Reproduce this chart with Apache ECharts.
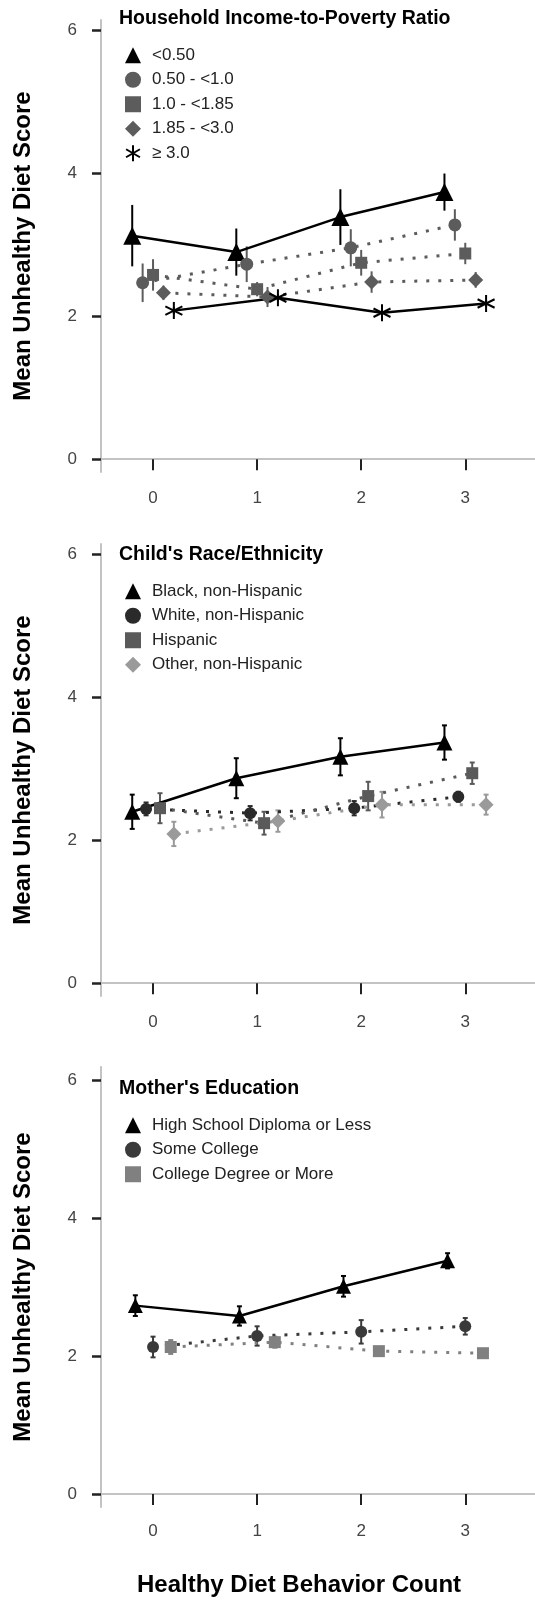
<!DOCTYPE html>
<html>
<head>
<meta charset="utf-8">
<script src="https://cdn.jsdelivr.net/npm/echarts@6/dist/echarts.min.js"></script>
<style>
html,body{margin:0;padding:0;background:#fff;}
#chart{width:535px;height:1603px;}
</style>
</head>
<body>
<div id="chart"></div>
<script>
// ---- data ----
const behaviorCounts = [0, 1, 2, 3];
const xTicks = [0, 1, 2, 3];
const yTicks = [0, 2, 4, 6];

// Panel 1: Household Income-to-Poverty Ratio
const incomeTitle = 'Household Income-to-Poverty Ratio';
const incomeNames = ['<0.50', '0.50 - <1.0', '1.0 - <1.85', '1.85 - <3.0', '\u2265 3.0'];
const incLt050 = [3.13, 2.90, 3.39, 3.74];
const incLt050Err = [0.43, 0.33, 0.39, 0.26];
const inc050to100 = [2.47, 2.73, 2.96, 3.28];
const inc050to100Err = [0.27, 0.25, 0.26, 0.22];
const inc100to185 = [2.58, 2.38, 2.75, 2.88];
const inc100to185Err = [0.22, 0.10, 0.18, 0.15];
const inc185to300 = [2.33, 2.27, 2.48, 2.51];
const inc185to300Err = [0.10, 0.14, 0.15, 0.11];
const incGe300 = [2.08, 2.26, 2.05, 2.18];
const incGe300Err = [0.05, 0.05, 0.05, 0.05];

// Panel 2: Child's Race/Ethnicity
const raceTitle = "Child's Race/Ethnicity";
const raceNames = ['Black, non-Hispanic', 'White, non-Hispanic', 'Hispanic', 'Other, non-Hispanic'];
const raceBlack = [2.40, 2.87, 3.17, 3.37];
const raceBlackErr = [0.24, 0.28, 0.26, 0.24];
const raceWhite = [2.44, 2.38, 2.45, 2.61];
const raceWhiteErr = [0.09, 0.10, 0.10, 0.07];
const raceHispanic = [2.45, 2.24, 2.62, 2.94];
const raceHispanicErr = [0.21, 0.16, 0.20, 0.15];
const raceOther = [2.09, 2.27, 2.50, 2.50];
const raceOtherErr = [0.17, 0.15, 0.18, 0.14];

// Panel 3: Mother's Education
const eduTitle = "Mother's Education";
const eduNames = ['High School Diploma or Less', 'Some College', 'College Degree or More'];
const eduHS = [2.73, 2.58, 3.01, 3.38];
const eduHSErr = [0.15, 0.14, 0.15, 0.11];
const eduSome = [2.13, 2.29, 2.35, 2.43];
const eduSomeErr = [0.15, 0.14, 0.17, 0.12];
const eduDegree = [2.13, 2.20, 2.07, 2.04];
const eduDegreeErr = [0.10, 0.08, 0.04, 0.04];

const yAxisTitle = 'Mean Unhealthy Diet Score';
const xAxisTitle = 'Healthy Diet Behavior Count';

// ---- styling / layout ----
const FONT = 'Liberation Sans, Arial, sans-serif';
const STAR = 'path://M0,-10L0,10M-8.66,-5L8.66,5M-8.66,5L8.66,-5';

const panels = [
  { title: incomeTitle, top: 20, height: 452, ymin: -0.18, ymax: 6.15, titleY: 20, legTop: 43, labelMargin: 18, cap: 0,
    series: [
      { name: incomeNames[0], vals: incLt050, err: incLt050Err, off: -0.2, symbol: 'triangle', size: 18, color: '#000', line: 'solid' },
      { name: incomeNames[1], vals: inc050to100, err: inc050to100Err, off: -0.1, symbol: 'circle', size: 13, color: '#5c5c5c', line: 'dot' },
      { name: incomeNames[2], vals: inc100to185, err: inc100to185Err, off: 0, symbol: 'rect', size: 12, color: '#5c5c5c', line: 'dot' },
      { name: incomeNames[3], vals: inc185to300, err: inc185to300Err, off: 0.1, symbol: 'diamond', size: 15, color: '#5c5c5c', line: 'dot' },
      { name: incomeNames[4], vals: incGe300, err: incGe300Err, off: 0.2, symbol: STAR, size: 17, color: '#000', line: 'solid', star: true }
    ] },
  { title: raceTitle, top: 544, height: 452, ymin: -0.18, ymax: 6.15, titleY: 556, legTop: 579, labelMargin: 18, cap: 5,
    series: [
      { name: raceNames[0], vals: raceBlack, err: raceBlackErr, off: -0.2, symbol: 'triangle', size: 16, color: '#000', line: 'solid' },
      { name: raceNames[1], vals: raceWhite, err: raceWhiteErr, off: -0.067, symbol: 'circle', size: 12, color: '#2a2a2a', line: 'dot' },
      { name: raceNames[2], vals: raceHispanic, err: raceHispanicErr, off: 0.067, symbol: 'rect', size: 12, color: '#5a5a5a', line: 'dot' },
      { name: raceNames[3], vals: raceOther, err: raceOtherErr, off: 0.2, symbol: 'diamond', size: 15, color: '#9a9a9a', line: 'dot' }
    ] },
  { title: eduTitle, top: 1067, height: 440, ymin: -0.19, ymax: 6.19, titleY: 1090, legTop: 1113, labelMargin: 16, cap: 5,
    series: [
      { name: eduNames[0], vals: eduHS, err: eduHSErr, off: -0.17, symbol: 'triangle', size: 15, color: '#000', line: 'solid' },
      { name: eduNames[1], vals: eduSome, err: eduSomeErr, off: 0, symbol: 'circle', size: 12, color: '#3a3a3a', line: 'dot' },
      { name: eduNames[2], vals: eduDegree, err: eduDegreeErr, off: 0.17, symbol: 'rect', size: 12, color: '#808080', line: 'dot' }
    ] }
];

function errRender(color, cap) {
  return function (params, api) {
    const x = api.value(0), lo = api.value(1), hi = api.value(2);
    const p1 = api.coord([x, hi]), p2 = api.coord([x, lo]);
    const st = { stroke: color, lineWidth: 2 };
    const children = [{ type: 'line', shape: { x1: p1[0], y1: p1[1], x2: p2[0], y2: p2[1] }, style: st }];
    if (cap > 0) {
      children.push({ type: 'line', shape: { x1: p1[0] - cap / 2, y1: p1[1], x2: p1[0] + cap / 2, y2: p1[1] }, style: st });
      children.push({ type: 'line', shape: { x1: p2[0] - cap / 2, y1: p2[1], x2: p2[0] + cap / 2, y2: p2[1] }, style: st });
    }
    return { type: 'group', children: children };
  };
}

const grid = [], xAxis = [], yAxis = [], series = [], legend = [], title = [];
panels.forEach(function (p, i) {
  grid.push({ left: 101, right: 0, top: p.top, height: p.height });
  xAxis.push({
    type: 'value', gridIndex: i, min: -0.5, max: 3.67,
    axisLine: { onZero: true, lineStyle: { color: '#c3c3c3', width: 2 } },
    axisTick: { customValues: xTicks, length: 11, lineStyle: { color: '#222', width: 2 } },
    axisLabel: { customValues: xTicks, margin: p.labelMargin, fontSize: 17, color: '#444', fontFamily: FONT },
    splitLine: { show: false }
  });
  yAxis.push({
    type: 'value', gridIndex: i, min: p.ymin, max: p.ymax,
    name: yAxisTitle, nameLocation: 'middle', nameGap: 66,
    nameTextStyle: { fontSize: 24, fontWeight: 'bold', color: '#000', fontFamily: FONT },
    axisLine: { onZero: false, lineStyle: { color: '#c3c3c3', width: 2 } },
    axisTick: { customValues: yTicks, length: 9, lineStyle: { color: '#222', width: 2.5 } },
    axisLabel: { customValues: yTicks, margin: 24, fontSize: 17, color: '#444', fontFamily: FONT },
    splitLine: { show: false }
  });
  title.push({
    text: p.title, left: 119, top: p.titleY - 11,
    textStyle: { fontSize: 19.5, fontWeight: 'bold', color: '#000', fontFamily: FONT }, padding: 0
  });
  const legData = [];
  p.series.forEach(function (s) {
    series.push({
      type: 'custom', name: s.name + ' (CI)', xAxisIndex: i, yAxisIndex: i, z: 1,
      renderItem: errRender(s.color, p.cap),
      encode: { x: 0, y: [1, 2] },
      data: behaviorCounts.map(function (c, k) { return [c + s.off, s.vals[k] - s.err[k], s.vals[k] + s.err[k]]; }),
      silent: true
    });
    series.push({
      type: 'line', name: s.name, xAxisIndex: i, yAxisIndex: i, z: 3,
      data: behaviorCounts.map(function (c, k) { return [c + s.off, s.vals[k]]; }),
      symbol: s.symbol, symbolSize: s.size, showAllSymbol: true,
      itemStyle: s.star ? { color: '#fff', opacity: 1, borderColor: '#000', borderWidth: 2 } : { color: s.color },
      lineStyle: s.line === 'solid' ? { color: s.color, width: 2.5, type: 'solid' }
                                    : { color: s.color, width: 3, type: [3, 9] },
      animation: false, silent: true
    });
    legData.push({
      name: s.name,
      icon: s.symbol,
      itemStyle: s.star ? { color: 'rgba(0,0,0,0)', borderColor: '#000', borderWidth: 2 } : { color: s.color, borderWidth: 0 }
    });
  });
  legend.push({
    data: legData, orient: 'vertical', left: 125, top: p.legTop, padding: 0,
    itemWidth: 16, itemHeight: 16, itemGap: 0, selectedMode: false,
    textStyle: { fontSize: 17, color: '#222', fontFamily: FONT, lineHeight: 24.5, padding: [0, 0, 0, 6] }
  });
});

const chart = echarts.init(document.getElementById('chart'), null, { renderer: 'canvas' });
chart.setOption({
  animation: false,
  backgroundColor: '#fff',
  title: title,
  legend: legend,
  grid: grid,
  xAxis: xAxis,
  yAxis: yAxis,
  series: series,
  graphic: [{
    type: 'text', left: 304 - 167, top: 1573,
    style: { text: xAxisTitle, font: 'bold 24px ' + FONT, fill: '#000' }
  }]
});
</script>
</body>
</html>
